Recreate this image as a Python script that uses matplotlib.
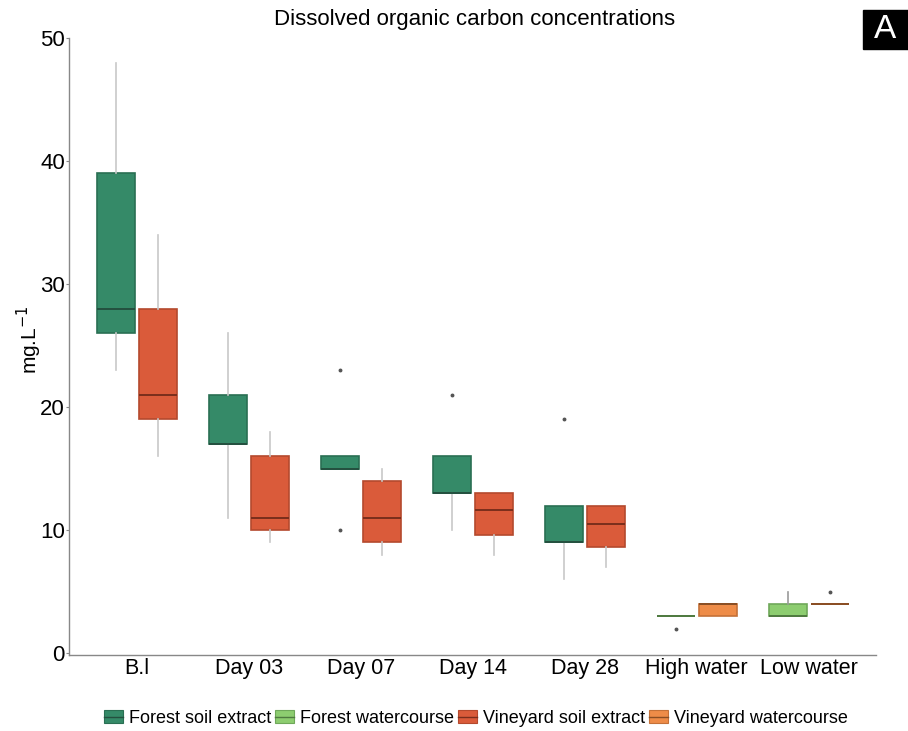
import matplotlib
matplotlib.use("Agg")
import matplotlib.pyplot as plt
from matplotlib.patches import Rectangle
from matplotlib.lines import Line2D
from matplotlib.legend_handler import HandlerBase

plt.rcParams['font.family'] = ['Liberation Sans', 'DejaVu Sans']

categories = ["B.l", "Day 03", "Day 07", "Day 14", "Day 28", "High water", "Low water"]
series = ["Forest soil extract", "Forest watercourse", "Vineyard soil extract", "Vineyard watercourse"]
colors = {"Forest soil extract": "#358A68", "Forest watercourse": "#8DCD70",
          "Vineyard soil extract": "#DA5B3A", "Vineyard watercourse": "#EE8C48"}
edge_colors = {"Forest soil extract": "#2A6F53", "Forest watercourse": "#6FA85A",
               "Vineyard soil extract": "#B4492D", "Vineyard watercourse": "#C47138"}
median_colors = {"Forest soil extract": "#24503F", "Forest watercourse": "#4F7A40",
                 "Vineyard soil extract": "#7A2E1C", "Vineyard watercourse": "#8A4E24"}

# Forest (left position) box stats per category: whislo, q1, med, q3, whishi, outliers
forest_series = ["Forest soil extract"] * 5 + ["Forest watercourse"] * 2
forest_whislo = [23, 11, 15, 10, 6, 3, 3]
forest_q1 = [26, 17, 15, 13, 9, 3, 3]
forest_med = [28, 17, 15, 13, 9, 3, 3]
forest_q3 = [39, 21, 16, 16, 12, 3, 4]
forest_whishi = [48, 26, 16, 16, 12, 3, 5]
forest_fliers = [[], [], [23, 10], [21], [19], [2], []]

# Vineyard (right position)
vine_series = ["Vineyard soil extract"] * 5 + ["Vineyard watercourse"] * 2
vine_whislo = [16, 9, 8, 8, 7, 3, 4]
vine_q1 = [19, 10, 9, 9.6, 8.6, 3, 4]
vine_med = [21, 11, 11, 11.6, 10.5, 4, 4]
vine_q3 = [28, 16, 14, 13, 12, 4, 4]
vine_whishi = [34, 18, 15, 13, 12, 4, 4]
vine_fliers = [[], [], [], [], [], [], [5]]

W, H = 908, 731
fig = plt.figure(figsize=(W / 100, H / 100), dpi=100)
AX_L, AX_R, AX_B, AX_T = 69, 876, 655, 38
ax = fig.add_axes([AX_L / W, 1 - AX_B / H, (AX_R - AX_L) / W, (AX_B - AX_T) / H])

offset = 0.1875
width = 0.34


def draw(whislo, q1, med, q3, whishi, fliers, sers, sign):
    for i in range(len(categories)):
        s = sers[i]
        stats = [dict(whislo=whislo[i], q1=q1[i], med=med[i], q3=q3[i], whishi=whishi[i], fliers=fliers[i])]
        wc = "#C8C8C8" if i < 5 else "#9A9A9A"
        ax.bxp(stats, positions=[i + sign * offset], widths=width, patch_artist=True,
               showcaps=False, manage_ticks=False,
               boxprops=dict(facecolor=colors[s], edgecolor=edge_colors[s], linewidth=1.2),
               medianprops=dict(color=median_colors[s], linewidth=1.4),
               whiskerprops=dict(color=wc, linewidth=1.2),
               flierprops=dict(marker='o', markersize=1.8, markerfacecolor="#555555",
                               markeredgecolor="#555555"))


draw(forest_whislo, forest_q1, forest_med, forest_q3, forest_whishi, forest_fliers, forest_series, -1)
draw(vine_whislo, vine_q1, vine_med, vine_q3, vine_whishi, vine_fliers, vine_series, 1)

ax.set_xlim(-0.603, 6.6)
ax.set_ylim(-0.15, 50)
ax.set_xticks(range(len(categories)))
ax.set_xticklabels(categories, fontsize=15.5)
ax.set_yticks([0, 10, 20, 30, 40, 50])
ax.tick_params(axis='y', labelsize=16, length=2, color="#888888", pad=1)
ax.tick_params(axis='x', length=0, pad=2)
for sp in ['top', 'right']:
    ax.spines[sp].set_visible(False)
for sp in ['left', 'bottom']:
    ax.spines[sp].set_color("#888888")
    ax.spines[sp].set_linewidth(1.0)
ax.set_ylabel("mg.L$^{-1}$", fontsize=15)
ax.yaxis.set_label_coords((44 - AX_L) / (AX_R - AX_L), (AX_B - 340) / (AX_B - AX_T))
fig.text(475 / W, 1 - 20 / H, "Dissolved organic carbon concentrations", fontsize=16,
         ha='center', va='center')
fig.patches.append(Rectangle((863 / W, 1 - 49 / H), 45 / W, 39 / H, transform=fig.transFigure,
                             facecolor='black', edgecolor='black', figure=fig))
fig.text(885 / W, 1 - 30 / H, "A", fontsize=24, color='white', ha='center', va='center')


class BoxHandler(HandlerBase):
    def create_artists(self, legend, orig_handle, xdescent, ydescent, width, height, fontsize, trans):
        s = orig_handle.get_label()
        r = Rectangle((-xdescent, -ydescent + height * 0.05), width, height * 0.9,
                      facecolor=colors[s], edgecolor=edge_colors[s], lw=0.8, transform=trans)
        l = Line2D([-xdescent, -xdescent + width], [-ydescent + height / 2] * 2,
                   color=median_colors[s], lw=1.0, transform=trans)
        return [r, l]


handles = [Rectangle((0, 0), 1, 1, label=s) for s in series]
fig.legend(handles=handles, labels=series, handler_map={Rectangle: BoxHandler()},
           loc='center', bbox_to_anchor=(476 / W, 1 - 718 / H), ncol=4, frameon=False,
           fontsize=13, handlelength=1.05, handleheight=0.9, handletextpad=0.3,
           columnspacing=0.25)

fig.savefig("out.png", dpi=100)
